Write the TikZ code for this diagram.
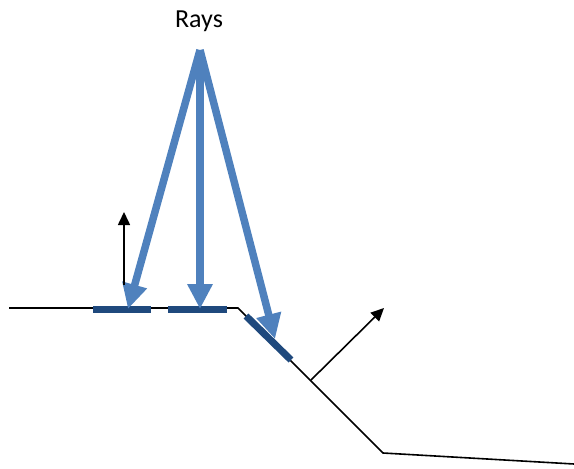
\documentclass[tikz,border=0pt]{standalone}
\usepackage{fontspec}
\setmainfont{Carlito}
\usetikzlibrary{arrows.meta}
\definecolor{rayblue}{HTML}{4F81BD}
\definecolor{patchblue}{HTML}{1F497D}
\begin{document}
\begin{tikzpicture}[x=1pt,y=-1pt,
  ground/.style={draw=black,line width=1.6pt,line join=miter},
  ray/.style={draw=rayblue,line width=7.5pt,-{Triangle[width=24pt,length=25pt]}},
  patch/.style={draw=patchblue,line width=7pt},
  normal/.style={draw=black,line width=1.6pt,-{Triangle[width=12pt,length=13pt]}}]
\useasboundingbox (0,0) rectangle (574,469);
\node[font=\fontsize{26}{31}\selectfont,inner sep=0pt] (rays) at (199,21) {Rays};
% ground
\coordinate (g0) at (9,308);
\coordinate (g1) at (238,308);
\coordinate (g2) at (383,453);
\coordinate (g3) at (574,464);
\draw[ground] (g0) -- (g1) -- (g2) -- (g3);
% patches
\coordinate (p1a) at (93,309); \coordinate (p1b) at (151,309);
\coordinate (p2a) at (168,309); \coordinate (p2b) at (227,309);
\coordinate (p3a) at (246,316); \coordinate (p3b) at (291,360);
\draw[patch] (p1a) -- (p1b);
\draw[patch] (p2a) -- (p2b);
\draw[patch] (p3a) -- (p3b);
% rays
\coordinate (src) at (200,50);
\coordinate (t1) at (128,309);
\coordinate (t2) at (200,309);
\coordinate (t3) at (275,339);
\draw[ray] (src) -- (t1);
\draw[ray] (src) -- (t2);
\draw[ray] (src) -- (t3);
% normals
\coordinate (n1a) at (124,285); \coordinate (n1b) at (124,212);
\coordinate (n2a) at (311,380); \coordinate (n2b) at (384,308);
\draw[normal] (n1a) -- (n1b);
\draw[normal] (n2a) -- (n2b);
\end{tikzpicture}
\end{document}
